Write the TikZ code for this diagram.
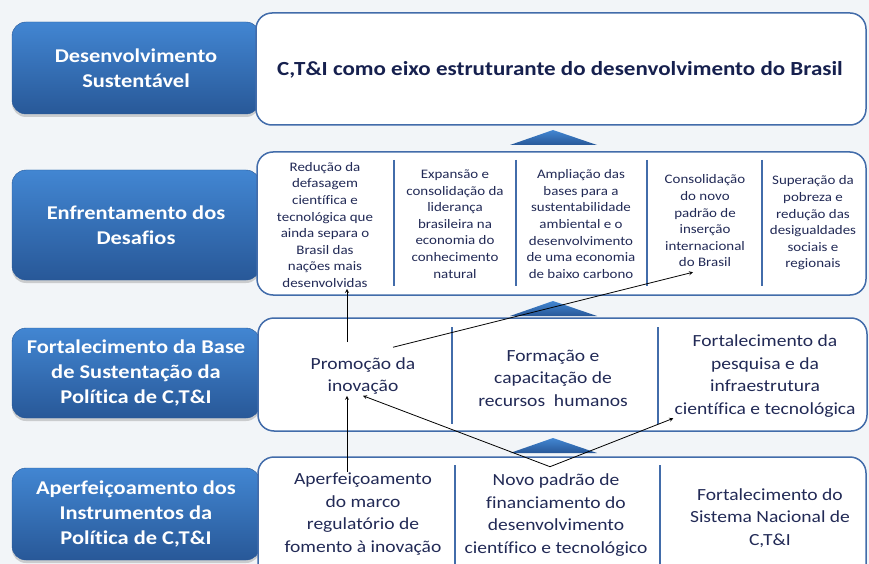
\documentclass[tikz,border=0pt]{standalone}
\usepackage{fontspec}
\setmainfont[FakeStretch=1.15, Ligatures=NoCommon]{Carlito}
\usetikzlibrary{calc,shadows}
\definecolor{ink}{RGB}{34,42,86}
\definecolor{navy}{RGB}{22,32,78}
\definecolor{rim}{RGB}{66,108,170}
\definecolor{lvltop}{RGB}{66,134,210}
\definecolor{lvlbot}{RGB}{40,88,152}
\definecolor{bg}{RGB}{242,245,248}
\tikzset{
  lvlbox/.style={rounded corners=14pt, top color=lvltop, bottom color=lvlbot, draw=lvlbot, text=white, align=center,
    minimum width=248pt, minimum height=92pt, font=\fontsize{19.5}{25}\selectfont\bfseries,
    drop shadow={shadow xshift=0pt, shadow yshift=-3pt, opacity=.35}},
  panel/.style={rounded corners=16pt, fill=white, draw=rim, line width=1.5pt},
  bar/.style={rim, line width=2.5pt},
  rowsmall/.style={text=ink, align=center, inner sep=1pt, font=\fontsize{13}{16.6}\selectfont},
  rowmid/.style={text=ink, align=center, inner sep=1pt, font=\fontsize{17}{22.5}\selectfont},
  link/.style={->, line width=.8pt}
}
\begin{document}
\begin{tikzpicture}[x=1pt, y=-1pt, >=stealth, line join=round]
\clip (0,0) rectangle (869,564);
\fill[bg] (0,0) rectangle (869,564);
\node[lvlbox] (lvl1) at (136,68) {Desenvolvimento\\Sustentável};
\node[lvlbox, minimum height=110pt] (lvl2) at (136,225) {Enfrentamento dos\\Desafios};
\node[lvlbox, minimum height=90pt] (lvl3) at (136,373) {Fortalecimento da Base\\de Sustentação da\\Política de C,T\&I};
\node[lvlbox] (lvl4) at (136,514) {Aperfeiçoamento dos\\Instrumentos da\\Política de C,T\&I};
\draw[panel] (256,13) rectangle (866,125);
\draw[panel] (257,152) rectangle (866,295);
\draw[panel] (258,318) rectangle (867,431);
\draw[panel] (258,457) rectangle (866,590);
\foreach \y in {145,316,453}
  \shade[top color=lvltop, bottom color=lvlbot] (510,\y) -- (553,\y-15) -- (597,\y) -- cycle;
\foreach \x/\ya/\yb in {394/160/286, 516/160/286, 647/160/286, 762/160/286, 452/327/424, 658/327/424, 455/465/564, 660/465/564}
  \draw[bar] (\x,\ya) -- (\x,\yb);
\node[text=navy, font=\fontsize{20}{24}\selectfont\bfseries] (goal) at (560,70) {C,T\&I como eixo estruturante do desenvolvimento do Brasil};
\node[rowsmall] (r1) at (325,225) {Redução da\\defasagem\\científica e\\tecnológica que\\ainda separa o\\Brasil das\\nações mais\\desenvolvidas};
\node[rowsmall] (r2) at (455,224) {Expansão e\\consolidação da\\liderança\\brasileira na\\economia do\\conhecimento\\natural};
\node[rowsmall] (r3) at (581,224) {Ampliação das\\bases para a\\sustentabilidade\\ambiental e o\\desenvolvimento\\de uma economia\\de baixo carbono};
\node[rowsmall] (r4) at (705,221) {Consolidação\\do novo\\padrão de\\inserção\\internacional\\do Brasil};
\node[rowsmall] (r5) at (813,223) {Superação da\\pobreza e\\redução das\\desigualdades\\sociais e\\regionais};
\node[rowmid] (f1) at (363,376) {Promoção da\\inovação};
\node[rowmid] (f2) at (553,378) {Formação e\\capacitação de\\recursos\ \ humanos};
\node[rowmid] (f3) at (765,376) {Fortalecimento da\\pesquisa e da\\infraestrutura\\científica e tecnológica};
\node[rowmid] (a1) at (363,514) {Aperfeiçoamento\\do marco\\regulatório de\\fomento à inovação};
\node[rowmid] (a2) at (556,515) {Novo padrão de\\financiamento do\\desenvolvimento\\científico e tecnológico};
\node[rowmid] (a3) at (770,518) {Fortalecimento do\\Sistema Nacional de\\C,T\&I};
\coordinate (tip) at ([xshift=-16pt]f1.south);
\coordinate (top) at ([xshift=-16pt]f1.north);
\coordinate (fork) at ([xshift=-6pt,yshift=6pt]a2.north);
\draw[link] (a1.north -| tip) -- (tip);
\draw[link] ([yshift=14pt]top) -- (top |- r1.south);
\draw[link] ([xshift=30pt,yshift=9pt]f1.north) -- ([xshift=-12pt,yshift=-4pt]r4.south);
\draw[link] (fork) -- (f1.south);
\draw[link] (fork) -- (f3.south west);
\end{tikzpicture}
\end{document}
